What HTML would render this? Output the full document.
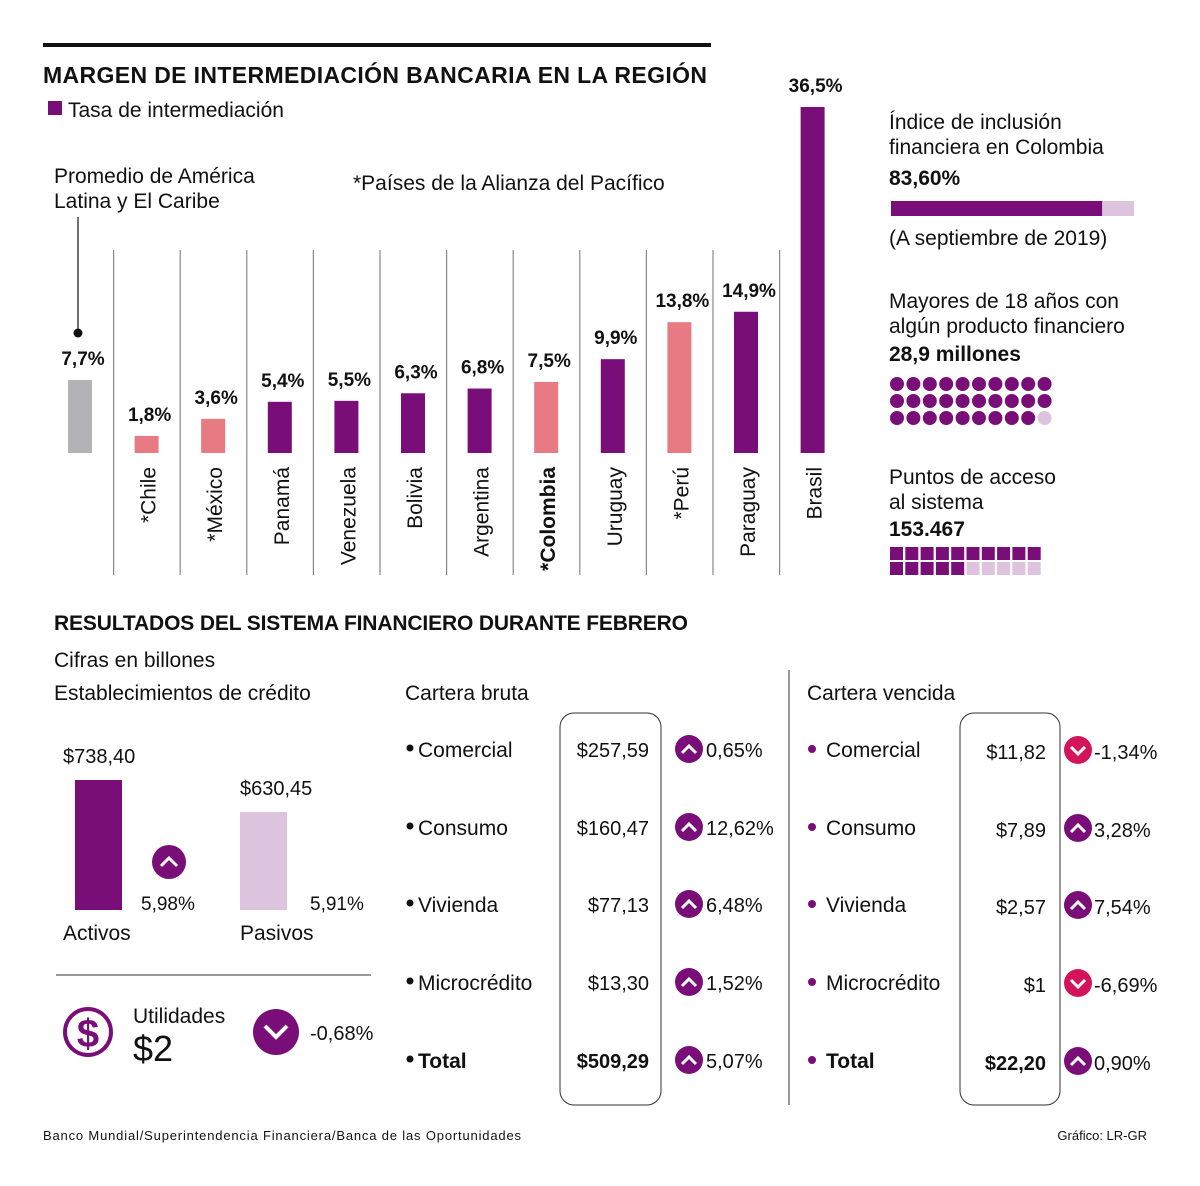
<!DOCTYPE html>
<html><head><meta charset="utf-8"><style>
body{margin:0;background:#fff}
svg{display:block;font-family:"Liberation Sans",sans-serif}
.t{font-size:21px;fill:#111}
.b{font-weight:bold}
</style></head><body>
<svg id="s" width="1200" height="1186" viewBox="0 0 1200 1186">
<rect x="43" y="43" width="668" height="4" fill="#111"/>
<text x="43" y="83" font-size="23" font-weight="bold" fill="#111" textLength="664">MARGEN DE INTERMEDIACIÓN BANCARIA EN LA REGIÓN</text>
<rect x="48" y="101" width="14" height="14" fill="#7a0e78"/>
<text x="68" y="117" class="t">Tasa de intermediación</text>
<text x="54" y="183" class="t">Promedio de América</text>
<text x="54" y="208" class="t">Latina y El Caribe</text>
<line x1="78" y1="217" x2="78" y2="333" stroke="#111" stroke-width="1.2"/>
<circle cx="78" cy="333" r="4.5" fill="#111"/>
<text x="353" y="190" class="t">*Países de la Alianza del Pacífico</text>
<g id="bars"></g>

<text x="889" y="129" class="t">Índice de inclusión</text>
<text x="889" y="154" class="t">financiera en Colombia</text>
<text x="889" y="185" class="t b">83,60%</text>
<rect x="891" y="201" width="243" height="15" fill="#dcc3de"/>
<rect id="incl" x="891" y="201" width="211" height="15" fill="#7a0e78"/>
<text x="889" y="245" class="t">(A septiembre de 2019)</text>
<text x="889" y="308" class="t">Mayores de 18 años con</text>
<text x="889" y="333" class="t">algún producto financiero</text>
<text x="889" y="361" class="t b">28,9 millones</text>
<g id="dots"></g>
<text x="889" y="484" class="t">Puntos de acceso</text>
<text x="889" y="509" class="t">al sistema</text>
<text x="889" y="536" class="t b">153.467</text>
<g id="sq"></g>

<text x="54" y="630" font-size="21" font-weight="bold" fill="#111" textLength="634">RESULTADOS DEL SISTEMA FINANCIERO DURANTE FEBRERO</text>
<text x="54" y="667" class="t">Cifras en billones</text>
<text x="54" y="700" class="t">Establecimientos de crédito</text>
<g id="ap"></g>
<text x="63" y="940" class="t">Activos</text>
<text x="240" y="940" class="t">Pasivos</text>
<circle cx="169" cy="862" r="17" fill="#7a0e78"/>
<path d="M161 866 L169 858 L177 866" stroke="#fff" stroke-width="3" fill="none"/>
<text x="141" y="910" font-size="19" fill="#111">5,98%</text>
<text x="310" y="910" font-size="19" fill="#111">5,91%</text>
<line x1="56" y1="975" x2="371" y2="975" stroke="#333"/>
<circle cx="88" cy="1032" r="23" fill="none" stroke="#7a0e78" stroke-width="4"/>
<text x="88" y="1047" font-size="40" font-weight="bold" fill="#7a0e78" text-anchor="middle">$</text>
<text x="133" y="1023" class="t">Utilidades</text>
<text x="133" y="1061" font-size="36" fill="#111">$2</text>
<circle cx="276" cy="1032" r="23" fill="#7a0e78"/>
<path d="M265 1026 L276 1037 L287 1026" stroke="#fff" stroke-width="4" fill="none"/>
<text x="310" y="1040" font-size="20" fill="#111">-0,68%</text>

<text x="405" y="700" class="t">Cartera bruta</text>
<text x="807" y="700" class="t">Cartera vencida</text>
<rect x="560" y="713" width="101" height="392" rx="14" fill="none" stroke="#333"/>
<rect x="960" y="713" width="100" height="392" rx="14" fill="none" stroke="#333"/>
<line x1="789" y1="670" x2="789" y2="1105" stroke="#333"/>
<g id="tbl"></g>

<text x="43" y="1140" font-size="13" fill="#111" textLength="478">Banco Mundial/Superintendencia Financiera/Banca de las Oportunidades</text>
<text x="1147" y="1140" font-size="13" fill="#111" text-anchor="end">Gráfico: LR-GR</text>
</svg>
<script>
const countries=["Promedio","*Chile","*México","Panamá","Venezuela","Bolivia","Argentina","*Colombia","Uruguay","*Perú","Paraguay","Brasil"];
const rates=[7.7,1.8,3.6,5.4,5.5,6.3,6.8,7.5,9.9,13.8,14.9,36.5];
const rateLabels=["7,7%","1,8%","3,6%","5,4%","5,5%","6,3%","6,8%","7,5%","9,9%","13,8%","14,9%","36,5%"];
const groups=["avg","ap","ap","other","other","other","other","ap","other","ap","other","other"];
const inclusion=[83.6];
const adultsDots=[29,1];
const accessSquares=[15,5];
const apLabels=["Activos","Pasivos"];
const apValues=[738.40,630.45];
const apValueLabels=["$738,40","$630,45"];
const brutaCats=["Comercial","Consumo","Vivienda","Microcrédito","Total"];
const brutaValues=["$257,59","$160,47","$77,13","$13,30","$509,29"];
const brutaChanges=[0.65,12.62,6.48,1.52,5.07];
const vencidaCats=["Comercial","Consumo","Vivienda","Microcrédito","Total"];
const vencidaValues=["$11,82","$7,89","$2,57","$1","$22,20"];
const vencidaChanges=[-1.34,3.28,7.54,-6.69,0.90];

const NS="http://www.w3.org/2000/svg";
function mk(p,tag,a,txt){const e=document.createElementNS(NS,tag);for(const k in a)e.setAttribute(k,a[k]);if(txt!==undefined)e.textContent=txt;p.appendChild(e);return e;}
const col={avg:"#b3b2b7",ap:"#e87a84",other:"#7a0e78"};
const base=453,k=346/36.5;
const xC=i=>80+i*66.6;
const yS=v=>base-v*k;
const g=document.getElementById('bars');
countries.forEach((c,i)=>{
  const x=xC(i);
  if(i>0){const l=mk(g,'line',{x1:x-33,y1:250,x2:x-33,y2:575,stroke:'#888','stroke-width':1.2});
  
  }
  const r=mk(g,'rect',{x:x-12,y:yS(rates[i]),width:24,height:base-yS(rates[i]),fill:col[groups[i]]});
  
  
  const t=mk(g,'text',{x:x+3,y:yS(rates[i])-15,'font-size':19,'font-weight':'bold','text-anchor':'middle',fill:'#111'},rateLabels[i]);
  
  
  if(i>0){const n=mk(g,'text',{transform:`translate(${x+9},467) rotate(-90)`,'font-size':21,'text-anchor':'end',fill:'#111','font-weight':c==='*Colombia'?'bold':'normal'},c);
  
  }
});
document.getElementById('incl').setAttribute('width',252.5*inclusion[0]/100);
const d=document.getElementById('dots');
for(let j=0;j<adultsDots[0]+adultsDots[1];j++){
  const c=mk(d,'circle',{cx:897+(j%10)*16.4,cy:384+Math.floor(j/10)*17,r:7,fill:j<adultsDots[0]?'#7a0e78':'#dcc3de'});
  
  
}
const sq=document.getElementById('sq');
for(let j=0;j<accessSquares[0]+accessSquares[1];j++){
  const r=mk(sq,'rect',{x:890+(j%10)*15.3,y:547+Math.floor(j/10)*15,width:13,height:13,fill:j<accessSquares[0]?'#7a0e78':'#dcc3de'});
  
  
}
const ap=document.getElementById('ap');
const apX=[75,240],apBase=910,apK=130/(738.4-300);
const apColors=["#7a0e78","#dcc3de"];
apValues.forEach((v,i)=>{
  const h=(v-300)*apK;
  const r=mk(ap,'rect',{x:apX[i],y:apBase-h,width:47,height:h,fill:apColors[i]});
  
  
  const t=mk(ap,'text',{x:apX[i]-12*(1-i),y:apBase-h-17,'font-size':20,fill:'#111'},apValueLabels[i]);
  
  
});
const tb=document.getElementById('tbl');
function arrow(cx,cy,up,color){
  const c=mk(tb,'circle',{cx:cx,cy:cy,r:14,fill:color});
  
  
  mk(tb,'path',{d:up?`M${cx-7} ${cy+4} L${cx} ${cy-3} L${cx+7} ${cy+4}`:`M${cx-7} ${cy-3} L${cx} ${cy+4} L${cx+7} ${cy-3}`,stroke:'#fff','stroke-width':3,fill:'none'});
}
function fmt(v){return (v<0?'-':'')+Math.abs(v).toFixed(2).replace('.',',')+'%';}
const rowY=[749,827,904,982,1060];
brutaCats.forEach((c,i)=>{
  const y=rowY[i];
  mk(tb,'circle',{cx:410,cy:y-1,r:3.5,fill:'#111'});
  const t=mk(tb,'text',{x:418,y:y+8,'font-size':21,fill:'#111','font-weight':i===4?'bold':'normal'},c);
  
  
  const v=mk(tb,'text',{x:649,y:y+8,'font-size':20,fill:'#111','text-anchor':'end','font-weight':i===4?'bold':'normal'},brutaValues[i]);
  
  
  arrow(689,y,brutaChanges[i]>=0,'#7a0e78');
  const p=mk(tb,'text',{x:706,y:y+8,'font-size':20,fill:'#111'},fmt(brutaChanges[i]));
  
  
});
vencidaCats.forEach((c,i)=>{
  const y=rowY[i]+2;
  mk(tb,'circle',{cx:812,cy:y-2,r:4,fill:'#7a0e78'});
  const t=mk(tb,'text',{x:826,y:y+6,'font-size':21,fill:'#111','font-weight':i===4?'bold':'normal'},c);
  
  
  const v=mk(tb,'text',{x:1046,y:y+8,'font-size':20,fill:'#111','text-anchor':'end','font-weight':i===4?'bold':'normal'},vencidaValues[i]);
  
  
  const up=vencidaChanges[i]>=0;
  arrow(1078,y-1,up,up?'#7a0e78':'#d4145a');
  const p=mk(tb,'text',{x:1094,y:y+8,'font-size':20,fill:'#111'},fmt(vencidaChanges[i]));
  
  
});
</script>
</body></html>
